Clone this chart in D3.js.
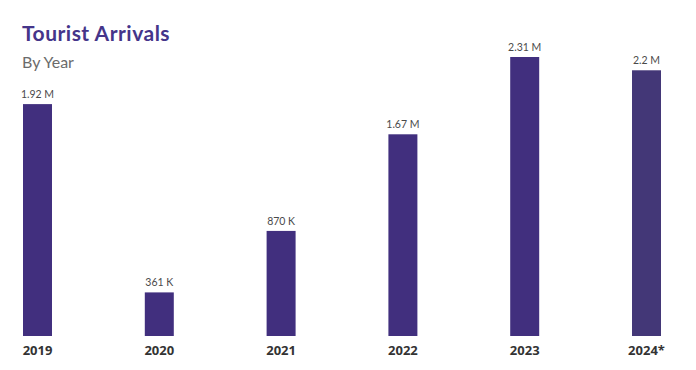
<!DOCTYPE html>
<html>
<head>
<meta charset="utf-8">
<script src="https://cdn.jsdelivr.net/npm/d3@7/dist/d3.min.js"></script>
<style>
    body { margin: 0; background: #fff; }
    svg { display: block; }
</style>
</head>
<body>
<div id="chart"></div>
<script>
// data
const years = ["2019", "2020", "2021", "2022", "2023", "2024*"];
const arrivals = [1920000, 361000, 870000, 1670000, 2310000, 2200000];
const valueLabels = ["1.92 M", "361 K", "870 K", "1.67 M", "2.31 M", "2.2 M"];
const barColors = ["#412f7e", "#412f7e", "#412f7e", "#412f7e", "#412f7e", "#433777"];

const width = 696, height = 370;
const baseline = 336;

const svg = d3.select("#chart")
    .append("svg")
    .attr("width", width)
    .attr("height", height)
    .style("background", "#fff");

// title
svg.append("text")
    .attr("x", 22)
    .attr("y", 41)
    .attr("fill", "#45358a")
    .style("font-family", "Lato, sans-serif")
    .style("font-weight", 700)
    .style("font-size", "21px")
    .style("letter-spacing", "0.5px")
    .text("Tourist Arrivals");

svg.append("text")
    .attr("x", 22)
    .attr("y", 68)
    .attr("fill", "#6b6b6b")
    .style("font-family", "Lato, sans-serif")
    .style("font-weight", 400)
    .style("font-size", "16px")
    .text("By Year");

// scales
const x = d3.scaleBand()
    .domain(years)
    .range([23, 661])
    .paddingInner(0.762)
    .paddingOuter(0);

const y = d3.scaleLinear()
    .domain([0, d3.max(arrivals)])
    .range([baseline, 57]);

const rows = years.map((yr, i) => ({year: yr, value: arrivals[i], label: valueLabels[i], color: barColors[i]}));

svg.append("g")
    .selectAll("rect")
    .data(rows)
    .enter()
    .append("rect")
    .attr("x", d => x(d.year))
    .attr("y", d => y(d.value))
    .attr("width", x.bandwidth())
    .attr("height", d => baseline - y(d.value))
    .attr("fill", d => d.color);

// value labels
svg.append("g")
    .selectAll("text")
    .data(rows)
    .enter()
    .append("text")
    .attr("x", d => x(d.year) + x.bandwidth() / 2)
    .attr("y", d => y(d.value) - 6)
    .attr("text-anchor", "middle")
    .attr("fill", "#4a4a4a")
    .style("font-family", "Lato, sans-serif")
    .style("font-size", "10.5px")
    .text(d => d.label);

// x axis labels
const xAxis = d3.axisBottom(x).tickSize(0).tickPadding(10);
const ax = svg.append("g")
    .attr("transform", `translate(0,${baseline})`)
    .call(xAxis);
ax.select(".domain").remove();
ax.selectAll("text")
    .attr("fill", "#333")
    .style("font-family", "'Open Sans', sans-serif")
    .style("font-weight", 700)
    .style("font-size", "13px");
</script>
</body>
</html>
